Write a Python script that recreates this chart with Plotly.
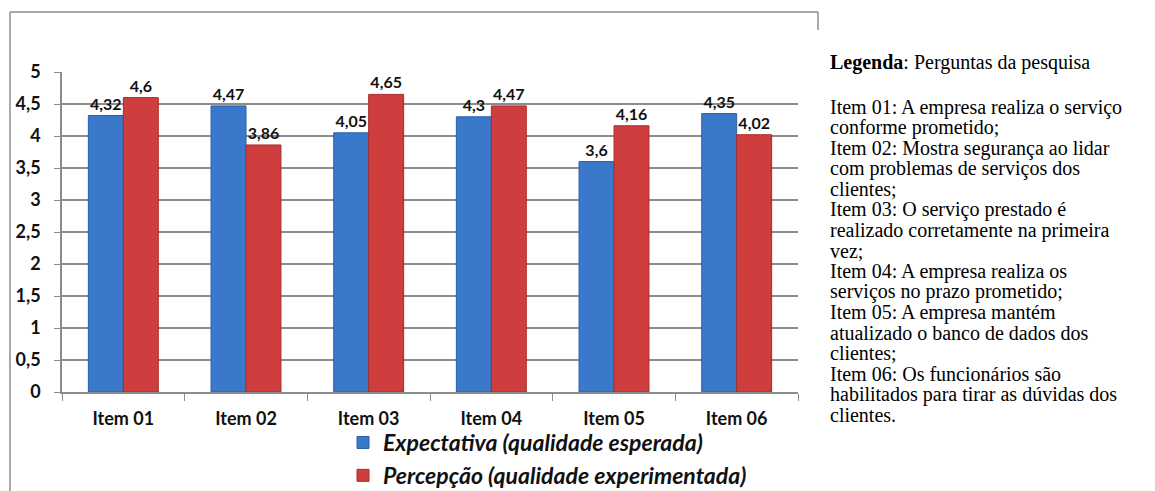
import plotly.graph_objects as go

# Survey items and mean scores
items = ["Item 01", "Item 02", "Item 03", "Item 04", "Item 05", "Item 06"]
expectativa = [4.32, 4.47, 4.05, 4.30, 3.60, 4.35]
percepcao = [4.60, 3.86, 4.65, 4.47, 4.16, 4.02]

serie_nomes = ["Expectativa (qualidade esperada)", "Percepção (qualidade experimentada)"]

legenda_titulo = "<b>Legenda</b>: Perguntas da pesquisa"
legenda_linhas = [
    "Item 01: A empresa realiza o serviço",
    "conforme prometido;",
    "Item 02: Mostra segurança ao lidar",
    "com problemas de serviços dos",
    "clientes;",
    "Item 03: O serviço prestado é",
    "realizado corretamente na primeira",
    "vez;",
    "Item 04: A empresa realiza os",
    "serviços no prazo prometido;",
    "Item 05: A empresa mantém",
    "atualizado o banco de dados dos",
    "clientes;",
    "Item 06: Os funcionários são",
    "habilitados para tirar as dúvidas dos",
    "clientes.",
]

W, H = 1155, 491
ML, MR, MT, MB = 62, 357, 72, 99
PW, PH = W - ML - MR, H - MT - MB


def px(x):
    return (x - ML) / PW


def py(y):
    return (H - MB - y) / PH


def fmt(v):
    return f"{v:g}".replace(".", ",")


label_font = dict(family="Lato", size=16, color="#111", weight="bold")

fig = go.Figure()
fig.add_trace(go.Bar(
    x=items, y=expectativa, name=serie_nomes[0],
    marker=dict(color="#3A78CC", line=dict(color="#2C5FA6", width=1)),
    text=[fmt(v) for v in expectativa], textposition="outside",
    textfont=label_font, cliponaxis=False,
))
fig.add_trace(go.Bar(
    x=items, y=percepcao, name=serie_nomes[1],
    marker=dict(color="#CF3E3E", line=dict(color="#A82C2C", width=1)),
    text=[fmt(v) for v in percepcao], textposition="outside",
    textfont=label_font, cliponaxis=False,
))

# Outer frame: top and left edges with a short tick at top-right
frame = [
    dict(x0=px(10), y0=py(12), x1=px(818), y1=py(12)),
    dict(x0=px(10), y0=py(12), x1=px(10), y1=py(491)),
    dict(x0=px(818), y0=py(12), x1=px(818), y1=py(30)),
]
shapes = [dict(type="line", xref="paper", yref="paper", line=dict(color="#8C8C8C", width=1.5), **f)
          for f in frame]

text_font = dict(family="Liberation Serif", size=20, color="#000")
annotations = [dict(
    text=legenda_titulo, xref="paper", yref="paper", x=px(828), y=py(62),
    xanchor="left", yanchor="middle", showarrow=False, font=text_font,
)]
for i, linha in enumerate(legenda_linhas):
    annotations.append(dict(
        text=linha, xref="paper", yref="paper", x=px(828), y=py(107 + i * 20.5),
        xanchor="left", yanchor="middle", showarrow=False, font=text_font,
    ))

fig.update_layout(
    width=W, height=H,
    margin=dict(l=ML, r=MR, t=MT, b=MB, autoexpand=False),
    paper_bgcolor="white", plot_bgcolor="white",
    separators=",.",
    barmode="group", bargap=0.43, bargroupgap=0,
    font=dict(family="Lato", color="#111"),
    showlegend=True,
    legend=dict(
        x=px(343), y=py(421), xanchor="left", yanchor="top",
        font=dict(family="Lato", size=23, color="#111", style="italic", weight="bold"),
        bgcolor="rgba(0,0,0,0)", tracegroupgap=0, itemwidth=30,
    ),
    xaxis=dict(
        showline=True, linecolor="#8C8C8C", linewidth=1.5,
        ticks="outside", tickson="boundaries", ticklen=7, tickcolor="#8C8C8C",
        tickfont=dict(family="Lato", size=18, weight="bold", color="#111"),
        ticklabelstandoff=10,
        showgrid=False,
    ),
    yaxis=dict(
        range=[0, 5], dtick=0.5,
        showline=True, linecolor="#8C8C8C", linewidth=1.5,
        ticks="outside", ticklen=6, tickcolor="#8C8C8C",
        ticklabelstandoff=10,
        showgrid=True, gridcolor="#8C8C8C", gridwidth=1.5,
        tickfont=dict(family="Lato", size=18, weight="bold", color="#111"),
        zeroline=False,
    ),
    shapes=shapes,
    annotations=annotations,
)

fig.write_html("out.html")
